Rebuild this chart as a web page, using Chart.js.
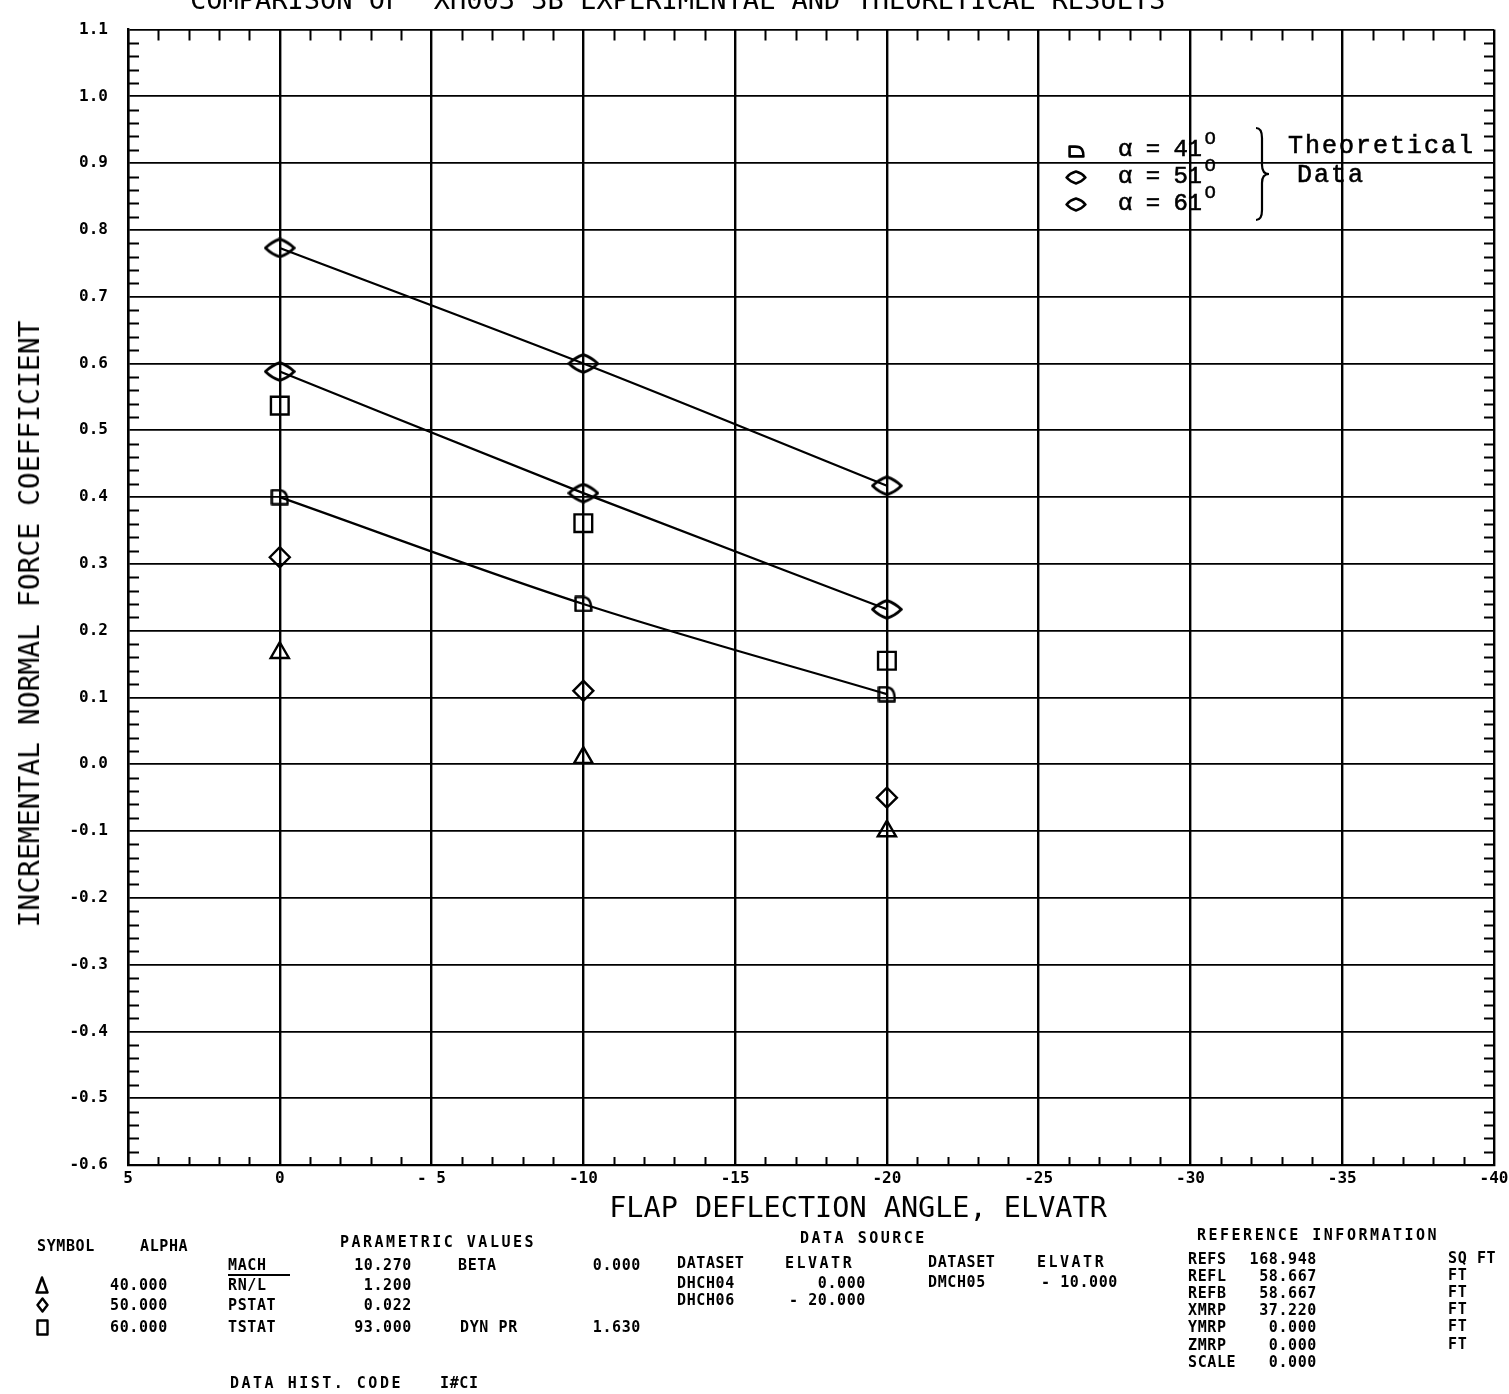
<!DOCTYPE html>
<html>
<head>
<meta charset="utf-8">
<script src="https://cdn.jsdelivr.net/npm/chart.js@4.4.1/dist/chart.umd.min.js"></script>
<style>
html,body{margin:0;padding:0;background:#fff;}
#wrap{position:relative;width:1509px;height:1394px;overflow:hidden;background:#fff;}
#chart{position:absolute;left:0;top:0;}
.t{position:absolute;white-space:pre;color:#000;line-height:1;}
.plot{font-family:'DejaVu Sans Mono',monospace;font-weight:normal;}
.info{font-family:'DejaVu Sans Mono',monospace;font-weight:bold;font-size:15px;letter-spacing:0.6px;}
.hdr{letter-spacing:2.5px;}
.lg{font-family:'Liberation Mono','Courier New',monospace;font-size:25px;letter-spacing:2px;-webkit-text-stroke:0.6px #000;}
.lgr{font-family:'Liberation Mono','Courier New',monospace;font-size:24px;letter-spacing:-0.5px;-webkit-text-stroke:0.6px #000;}
.sup{font-family:'Liberation Mono',monospace;font-size:19px;-webkit-text-stroke:0.4px #000;}
</style>
</head>
<body>
<div id="wrap">
<canvas id="chart" width="1509" height="1394"></canvas>
</div>
<script>
// ---------------- data ----------------
const flapAngles = [0, -10, -20];
// experimental (symbols only)
const expAlpha40 = [0.167, 0.010, -0.100];   // triangle
const expAlpha50 = [0.310, 0.110, -0.050];   // diamond
const expAlpha60 = [0.537, 0.361, 0.155];    // square
// theoretical (lines + symbols)
const theoAlpha41 = [0.400, 0.240, 0.105];
const theoAlpha51 = [0.588, 0.406, 0.232];
const theoAlpha61 = [0.773, 0.600, 0.417];

const xTickValues = [5, 0, -5, -10, -15, -20, -25, -30, -35, -40];
const xTickLabels = ['5', '0', '- 5', '-10', '-15', '-20', '-25', '-30', '-35', '-40'];
const yTickValues = [1.1, 1.0, 0.9, 0.8, 0.7, 0.6, 0.5, 0.4, 0.3, 0.2, 0.1, 0.0, -0.1, -0.2, -0.3, -0.4, -0.5, -0.6];
const yTickLabels = ['1.1', '1.0', '0.9', '0.8', '0.7', '0.6', '0.5', '0.4', '0.3', '0.2', '0.1', '0.0', '-0.1', '-0.2', '-0.3', '-0.4', '-0.5', '-0.6'];
const xMinorStep = 1;
const yMinorStep = 0.02;

const titleText = 'COMPARISON OF  XH003 3B EXPERIMENTAL AND THEORETICAL RESULTS';
const xTitle = 'FLAP DEFLECTION ANGLE, ELVATR';
const yTitle = 'INCREMENTAL NORMAL FORCE COEFFICIENT';
const legendRows = ['α = 41', 'α = 51', 'α = 61'];

// ---------------- marker images ----------------
function mk(w, h, draw, lw) {
  const c = document.createElement('canvas');
  c.width = w; c.height = h;
  const g = c.getContext('2d');
  g.strokeStyle = '#000'; g.lineWidth = lw || 2.2; g.lineJoin = 'round';
  draw(g, w, h);
  return c;
}
function dShape(g, w, h) {
  const p = 1.6;
  g.beginPath();
  g.moveTo(p, p);
  g.lineTo(w * 0.42, p);
  g.bezierCurveTo(w * 0.85, p, w - p, h * 0.45, w - p, h - p);
  g.lineTo(p, h - p);
  g.closePath();
  g.stroke();
}
function diamond(g, w, h) {
  const p = 1.6;
  g.beginPath();
  g.moveTo(p, h / 2);
  g.quadraticCurveTo(w * 0.25, h * 0.2, w / 2, p);
  g.quadraticCurveTo(w * 0.75, h * 0.2, w - p, h / 2);
  g.quadraticCurveTo(w * 0.75, h * 0.8, w / 2, h - p);
  g.quadraticCurveTo(w * 0.25, h * 0.8, p, h / 2);
  g.closePath();
  g.stroke();
}
const imgD = mk(19, 17, dShape, 2.5);
const imgWideDiamond = mk(32, 21, diamond, 2.8);

// ---------------- minor ticks plugin ----------------
const minorTicks = {
  id: 'minorTicks',
  beforeDatasetsDraw(chart) {
    const { ctx, chartArea: a, scales: { x, y } } = chart;
    ctx.save();
    ctx.strokeStyle = '#000';
    ctx.lineWidth = 2;
    ctx.beginPath();
    const xs = Math.round((x.max - x.min) / xMinorStep);
    for (let i = 0; i <= xs; i++) {
      const v = x.min + i * xMinorStep;
      if (Math.abs(v % 5) < 1e-9) continue;
      const px = Math.round(x.getPixelForValue(v)) + 0.5;
      ctx.moveTo(px, a.bottom); ctx.lineTo(px, a.bottom - 8);
      ctx.moveTo(px, a.top); ctx.lineTo(px, a.top + 11);
    }
    const ys = Math.round((y.max - y.min) / yMinorStep);
    for (let i = 0; i <= ys; i++) {
      if (i % 5 === 0) continue;
      const v = y.min + i * yMinorStep;
      const py = Math.round(y.getPixelForValue(v)) + 0.5;
      ctx.moveTo(a.left, py); ctx.lineTo(a.left + 11, py);
      ctx.moveTo(a.right, py); ctx.lineTo(a.right - 10, py);
    }
    ctx.stroke();
    ctx.restore();
  }
};

function pts(arr) { return flapAngles.map((x, i) => ({ x: x, y: arr[i] })); }
const tickFont = { family: 'DejaVu Sans Mono', weight: 'bold', size: 16 };

const theo = (label, arr, img) => ({
  label, data: pts(arr), showLine: true, borderColor: '#000', borderWidth: 2.2,
  cubicInterpolationMode: 'monotone', fill: false,
  pointStyle: img, pointRadius: 10, pointHoverRadius: 10
});
const expm = (label, arr, style, r) => ({
  label, data: pts(arr), showLine: false, borderColor: '#000',
  pointStyle: style, pointRadius: r, pointBorderWidth: 2.4,
  pointBackgroundColor: 'rgba(0,0,0,0)', pointBorderColor: '#000'
});

new Chart(document.getElementById('chart'), {
  type: 'line',
  data: {
    datasets: [
      theo('Theoretical α = 41°', theoAlpha41, imgD),
      theo('Theoretical α = 51°', theoAlpha51, imgWideDiamond),
      theo('Theoretical α = 61°', theoAlpha61, imgWideDiamond),
      expm('ALPHA 40.000', expAlpha40, 'triangle', 10.5),
      expm('ALPHA 50.000', expAlpha50, 'rectRot', 10),
      expm('ALPHA 60.000', expAlpha60, 'rect', 12.5)
    ]
  },
  options: {
    responsive: false, animation: false, devicePixelRatio: 1,
    layout: { padding: { left: 0, right: 15, top: 20, bottom: 189 } },
    plugins: { legend: { display: false }, tooltip: { enabled: false }, title: { display: false } },
    scales: {
      x: {
        type: 'linear', reverse: true, min: -40, max: 5,
        afterBuildTicks: s => { s.ticks = xTickValues.map(v => ({ value: v })); },
        afterFit: s => { s.height = 40; s.paddingLeft = 0; s.paddingRight = 0; },
        ticks: {
          callback: v => xTickLabels[xTickValues.indexOf(v)],
          font: tickFont, color: '#000', padding: 4, maxRotation: 0, autoSkip: false
        },
        grid: { color: '#000', lineWidth: 2.4, drawTicks: false },
        border: { display: true, color: '#000', width: 2.2 }
      },
      y: {
        type: 'linear', min: -0.6, max: 1.1,
        afterBuildTicks: s => { s.ticks = yTickValues.map(v => ({ value: v })); },
        afterFit: s => { s.width = 128; },
        ticks: {
          callback: v => yTickLabels[yTickValues.indexOf(v)],
          font: tickFont, color: '#000', padding: 20, autoSkip: false
        },
        grid: { color: '#000', lineWidth: 1.8, drawTicks: false },
        border: { display: true, color: '#000', width: 2.4 }
      }
    }
  },
  plugins: [minorTicks]
});

// ---------------- text overlays ----------------
const wrap = document.getElementById('wrap');
function txt(t, x, y, cls, opts) {
  opts = opts || {};
  const d = document.createElement('div');
  d.className = 't ' + cls;
  d.textContent = t;
  if (opts.size) d.style.fontSize = opts.size + 'px';
  if (opts.ls !== undefined) d.style.letterSpacing = opts.ls + 'px';
  d.style.top = y + 'px';
  if (opts.right) { d.style.right = (1509 - x) + 'px'; }
  else d.style.left = x + 'px';
  d.style.transform = opts.transform || 'translateY(-50%)';
  wrap.appendChild(d);
  return d;
}
// chart title (cut at top edge)
txt(titleText, 190, -1, 'plot', { size: 27, ls: 0 });
// axis titles
txt(xTitle, 858, 1208, 'plot', { size: 28.5, transform: 'translate(-50%,-50%)' });
txt(yTitle, 30, 624, 'plot', { size: 28, transform: 'translate(-50%,-50%) rotate(-90deg)' });

// legend (theoretical data)
function placeCanvas(c, cx, cy) {
  c.style.position = 'absolute';
  c.style.left = Math.round(cx - c.width / 2) + 'px';
  c.style.top = Math.round(cy - c.height / 2) + 'px';
  wrap.appendChild(c);
}
const legY = [150, 177, 204];
placeCanvas(mk(17, 13, dShape, 2.6), 1076, legY[0] + 1);
placeCanvas(mk(22, 15, diamond, 2.6), 1076, legY[1]);
placeCanvas(mk(22, 15, diamond, 2.6), 1076, legY[2]);
legendRows.forEach((r, i) => {
  const d = txt(r, 1118, legY[i], 'lgr');
  const s = document.createElement('span');
  s.className = 'sup';
  s.textContent = 'O';
  s.style.position = 'relative';
  s.style.top = '-12px';
  s.style.marginLeft = '3px';
  d.appendChild(s);
});
// brace
(function () {
  const c = document.createElement('canvas');
  c.width = 20; c.height = 96;
  const g = c.getContext('2d');
  g.strokeStyle = '#000'; g.lineWidth = 2.2;
  g.beginPath();
  g.moveTo(3, 2);
  g.quadraticCurveTo(9, 2, 9, 12);
  g.lineTo(9, 39);
  g.quadraticCurveTo(9, 48, 16, 48);
  g.quadraticCurveTo(9, 48, 9, 57);
  g.lineTo(9, 84);
  g.quadraticCurveTo(9, 94, 3, 94);
  g.stroke();
  placeCanvas(c, 1263, 174);
})();
txt('Theoretical', 1288, 146, 'lg');
txt('Data', 1297, 175, 'lg');

// info block
const info = [
  ['SYMBOL', 37, 1246, 'l', 0], ['ALPHA', 140, 1246, 'l', 0],
  ['PARAMETRIC VALUES', 340, 1242, 'l', 1], ['DATA SOURCE', 800, 1238, 'l', 1],
  ['REFERENCE INFORMATION', 1197, 1235, 'l', 1],
  ['MACH', 228, 1265, 'l', 0], ['10.270', 412, 1265, 'r', 0], ['BETA', 458, 1265, 'l', 0], ['0.000', 641, 1265, 'r', 0],
  ['DATASET', 677, 1263, 'l', 0], ['ELVATR', 785, 1263, 'l', 1], ['DATASET', 928, 1262, 'l', 0], ['ELVATR', 1037, 1262, 'l', 1],
  ['40.000', 110, 1285, 'l', 0], ['RN/L', 228, 1285, 'l', 0], ['1.200', 412, 1285, 'r', 0],
  ['DHCH04', 677, 1283, 'l', 0], ['0.000', 866, 1283, 'r', 0], ['DMCH05', 928, 1282, 'l', 0], ['- 10.000', 1118, 1282, 'r', 0],
  ['50.000', 110, 1305, 'l', 0], ['PSTAT', 228, 1305, 'l', 0], ['0.022', 412, 1305, 'r', 0],
  ['DHCH06', 677, 1300, 'l', 0], ['- 20.000', 866, 1300, 'r', 0],
  ['60.000', 110, 1327, 'l', 0], ['TSTAT', 228, 1327, 'l', 0], ['93.000', 412, 1327, 'r', 0], ['DYN PR', 460, 1327, 'l', 0], ['1.630', 641, 1327, 'r', 0],
  ['DATA HIST. CODE', 230, 1383, 'l', 1], ['I#CI', 440, 1383, 'l', 0],
  ['REFS', 1188, 1259, 'l', 0], ['168.948', 1317, 1259, 'r', 0], ['SQ FT', 1448, 1258, 'l', 0],
  ['REFL', 1188, 1276, 'l', 0], ['58.667', 1317, 1276, 'r', 0], ['FT', 1448, 1275, 'l', 0],
  ['REFB', 1188, 1293, 'l', 0], ['58.667', 1317, 1293, 'r', 0], ['FT', 1448, 1292, 'l', 0],
  ['XMRP', 1188, 1310, 'l', 0], ['37.220', 1317, 1310, 'r', 0], ['FT', 1448, 1309, 'l', 0],
  ['YMRP', 1188, 1327, 'l', 0], ['0.000', 1317, 1327, 'r', 0], ['FT', 1448, 1326, 'l', 0],
  ['ZMRP', 1188, 1345, 'l', 0], ['0.000', 1317, 1345, 'r', 0], ['FT', 1448, 1344, 'l', 0],
  ['SCALE', 1188, 1362, 'l', 0], ['0.000', 1317, 1362, 'r', 0]
];
info.forEach(([t, x, y, a, h]) => {
  txt(t, x, y, 'info' + (h ? ' hdr' : ''), { right: a === 'r' });
});
// MACH underline
(function () {
  const u = document.createElement('div');
  u.style.cssText = 'position:absolute;left:228px;top:1274px;width:62px;height:2px;background:#000;';
  wrap.appendChild(u);
})();
// symbols column
placeCanvas(mk(14, 18, (g, w, h) => { g.beginPath(); g.moveTo(w / 2, 1.5); g.lineTo(w - 1.5, h - 1.5); g.lineTo(1.5, h - 1.5); g.closePath(); g.stroke(); }, 2.4), 42, 1285);
placeCanvas(mk(13, 16, (g, w, h) => { g.beginPath(); g.moveTo(w / 2, 1.5); g.lineTo(w - 1.5, h / 2); g.lineTo(w / 2, h - 1.5); g.lineTo(1.5, h / 2); g.closePath(); g.stroke(); }, 2.4), 42, 1305);
placeCanvas(mk(13, 17, (g, w, h) => { g.strokeRect(1.5, 1.5, w - 3, h - 3); }, 2.4), 42, 1327);
</script>
</body>
</html>
